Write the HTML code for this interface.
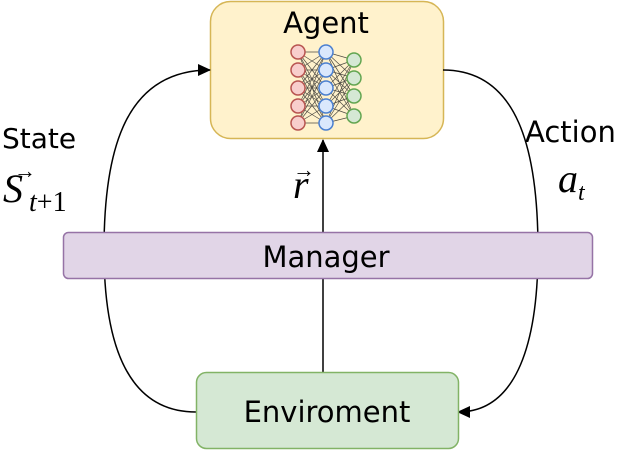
<!DOCTYPE html>
<html><head><style>
body{margin:0;background:#fff;}
</style></head><body>
<svg width="624" height="465" viewBox="0 0 624 465" xmlns="http://www.w3.org/2000/svg">
<defs><marker id="a" markerWidth="13" markerHeight="12" refX="12" refY="6" orient="auto" markerUnits="userSpaceOnUse"><path d="M0,0 L13,6 L0,12 z" fill="#000"/></marker></defs>
<rect x="210.5" y="1.5" width="233" height="137" rx="20" fill="#fff2cc" stroke="#d6b656" stroke-width="1.5"/>
<text x="326" y="33" font-family="DejaVu Sans, sans-serif" font-size="29" text-anchor="middle">Agent</text>
<g stroke="#222" stroke-width="0.7" opacity="0.8">
<path d="M298,52L326,52M298,52L326,70M298,52L326,88M298,52L326,106M298,52L326,123M298,70L326,52M298,70L326,70M298,70L326,88M298,70L326,106M298,70L326,123M298,88L326,52M298,88L326,70M298,88L326,88M298,88L326,106M298,88L326,123M298,106L326,52M298,106L326,70M298,106L326,88M298,106L326,106M298,106L326,123M298,123L326,52M298,123L326,70M298,123L326,88M298,123L326,106M298,123L326,123"/>
<path d="M326,52L354,60M326,52L354,78M326,52L354,96M326,52L354,116M326,70L354,60M326,70L354,78M326,70L354,96M326,70L354,116M326,88L354,60M326,88L354,78M326,88L354,96M326,88L354,116M326,106L354,60M326,106L354,78M326,106L354,96M326,106L354,116M326,123L354,60M326,123L354,78M326,123L354,96M326,123L354,116"/>
</g>
<g stroke-width="1.5">
<g fill="#f8cecc" stroke="#b85450"><circle cx="298" cy="52" r="7"/><circle cx="298" cy="70" r="7"/><circle cx="298" cy="88" r="7"/><circle cx="298" cy="106" r="7"/><circle cx="298" cy="123" r="7"/></g>
<g fill="#dae8fc" stroke="#4a7fd0"><circle cx="326" cy="52" r="7"/><circle cx="326" cy="70" r="7"/><circle cx="326" cy="88" r="7"/><circle cx="326" cy="106" r="7"/><circle cx="326" cy="123" r="7"/></g>
<g fill="#d5e8d4" stroke="#62a550"><circle cx="354" cy="60" r="7"/><circle cx="354" cy="78" r="7"/><circle cx="354" cy="96" r="7"/><circle cx="354" cy="116" r="7"/></g>
</g>
<path d="M196,412 C125,412 104,340 104,250 C104,150 125,70 210,70" fill="none" stroke="#000" stroke-width="1.5" marker-end="url(#a)"/>
<path d="M443,70 C518,70 538,150 538,250 C538,340 518,412 458,412" fill="none" stroke="#000" stroke-width="1.5" marker-end="url(#a)"/>
<path d="M323,372 L323,140" fill="none" stroke="#000" stroke-width="1.5" marker-end="url(#a)"/>
<rect x="63.5" y="232.5" width="529" height="46" rx="5" fill="#e1d5e7" stroke="#9673a6" stroke-width="1.5"/>
<text x="326" y="267" font-family="DejaVu Sans, sans-serif" font-size="29" text-anchor="middle">Manager</text>
<rect x="196.5" y="372.5" width="262" height="76" rx="10" fill="#d5e8d4" stroke="#82b366" stroke-width="1.5"/>
<text x="327" y="422" font-family="DejaVu Sans, sans-serif" font-size="29" text-anchor="middle">Enviroment</text>
<text x="2" y="148" font-family="DejaVu Sans, sans-serif" font-size="28">State</text>
<text x="3" y="202" font-family="Liberation Serif, serif" font-size="40" font-style="italic">S</text>
<text x="14" y="178" font-family="Liberation Serif, serif" font-size="22">→</text>
<text x="29" y="211" font-family="Liberation Serif, serif" font-size="28"><tspan font-style="italic">t</tspan>+1</text>
<text x="525" y="142" font-family="DejaVu Sans, sans-serif" font-size="29">Action</text>
<text x="558" y="192" font-family="Liberation Serif, serif" font-size="40" font-style="italic">a</text>
<text x="578" y="200" font-family="Liberation Serif, serif" font-size="24" font-style="italic">t</text>
<text x="293" y="198" font-family="Liberation Serif, serif" font-size="40" font-style="italic">r</text>
<text x="293" y="177" font-family="Liberation Serif, serif" font-size="22">→</text>
</svg>
</body></html>
